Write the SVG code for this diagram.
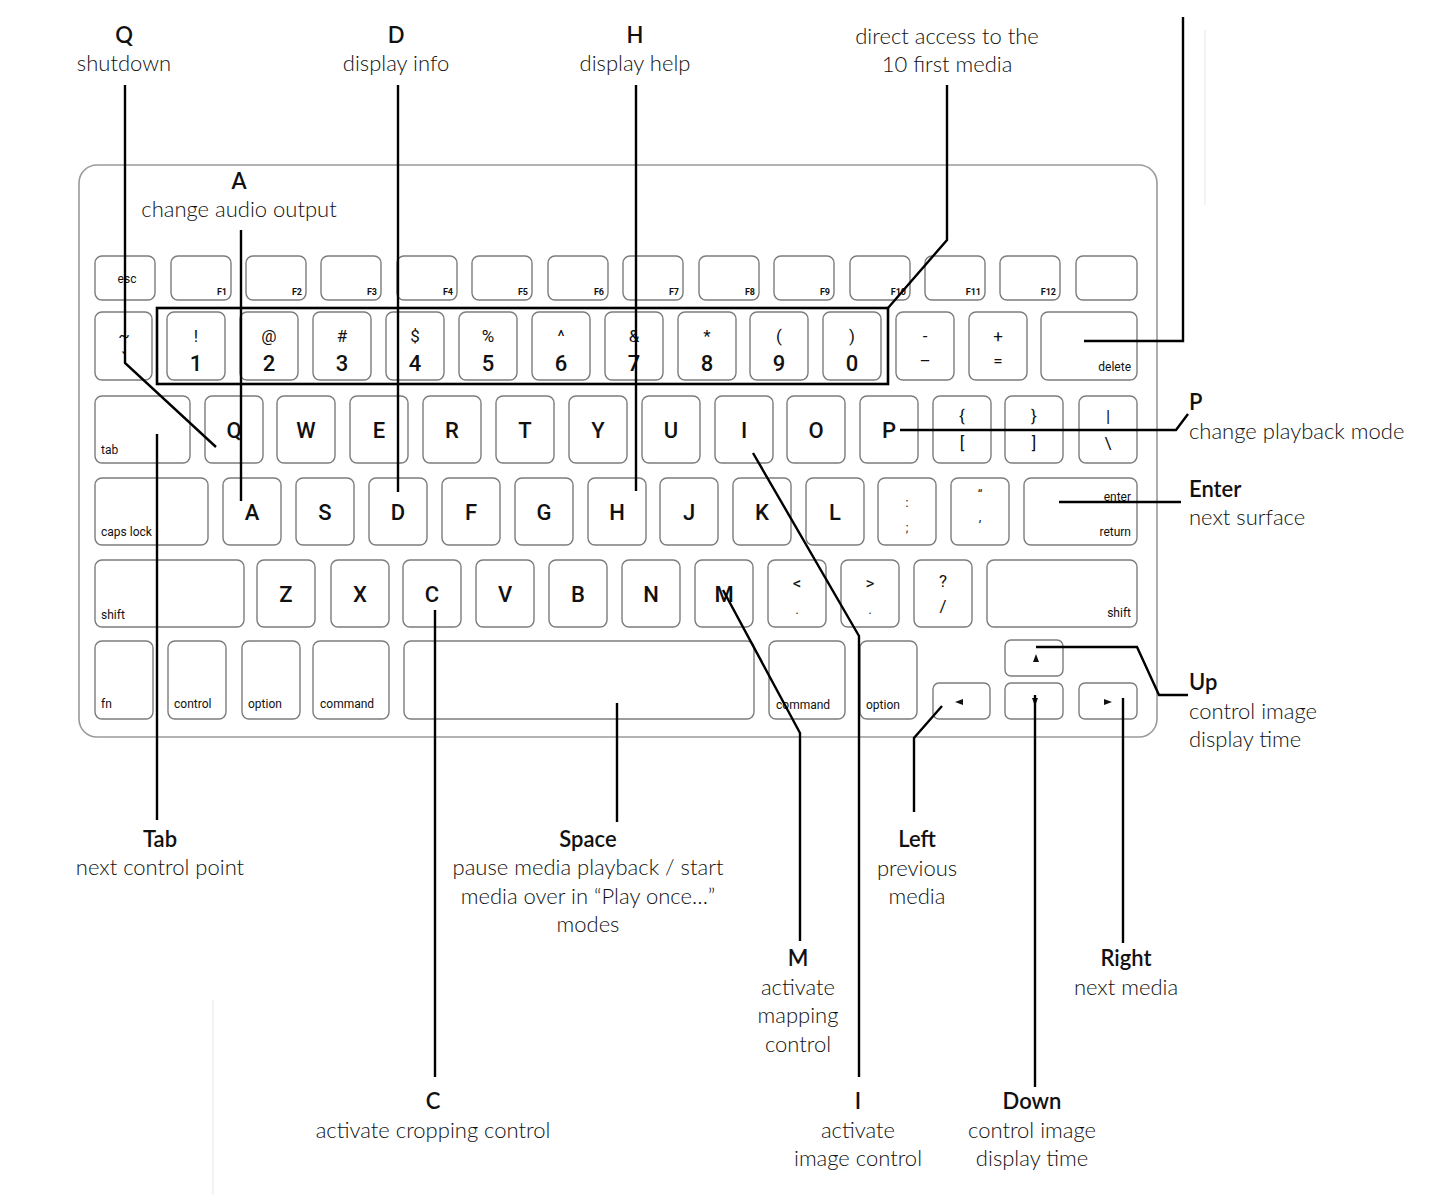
<svg xmlns="http://www.w3.org/2000/svg" width="1440" height="1195" viewBox="0 0 1440 1195">
<style>
.bg{fill:#fff}
.board{fill:#fff;stroke:#9a9a9a;stroke-width:1.6}
.k{fill:#fff;stroke:#7c7c7c;stroke-width:1.4}
.kt{font-family:Roboto,"Liberation Sans",sans-serif;fill:#111;text-anchor:middle}
.big{font-size:22px;font-weight:500}
.sym{font-size:17px}
.dig{font-size:22px;font-weight:500}
.fk{font-size:9px;font-weight:bold;text-anchor:end}
.mod{font-size:12px;text-anchor:start}
.modr{font-size:12px;text-anchor:end}
.ttl{font-family:Lato,"Open Sans",sans-serif;font-size:22px;font-weight:600;fill:#111;text-anchor:middle}
.dsc{font-family:Lato,"Open Sans",sans-serif;font-size:22px;font-weight:300;fill:#111;text-anchor:middle}
.ls{text-anchor:start}
.conn{fill:none;stroke:#000;stroke-width:2.4;stroke-linejoin:miter}
.faint{stroke:#eef0f0;stroke-width:1.5}
</style>
<rect class="bg" x="0" y="0" width="1440" height="1195"/>
<line class="faint" x1="213" y1="1000" x2="213" y2="1195"/>
<line class="faint" x1="1205" y1="30" x2="1205" y2="205"/>

<g id="keyboard">
<rect class="board" x="79" y="165" width="1078" height="572" rx="18"/>
</g>

<g id="function-row">
<rect class="k" x="95" y="256" width="60" height="44" rx="7"/><text class="kt" x="127" y="283" font-size="12">esc</text>
<rect class="k" x="171" y="256" width="60" height="44" rx="7"/><text class="kt fk" x="227" y="295">F1</text>
<rect class="k" x="246" y="256" width="60" height="44" rx="7"/><text class="kt fk" x="302" y="295">F2</text>
<rect class="k" x="321" y="256" width="60" height="44" rx="7"/><text class="kt fk" x="377" y="295">F3</text>
<rect class="k" x="397" y="256" width="60" height="44" rx="7"/><text class="kt fk" x="453" y="295">F4</text>
<rect class="k" x="472" y="256" width="60" height="44" rx="7"/><text class="kt fk" x="528" y="295">F5</text>
<rect class="k" x="548" y="256" width="60" height="44" rx="7"/><text class="kt fk" x="604" y="295">F6</text>
<rect class="k" x="623" y="256" width="60" height="44" rx="7"/><text class="kt fk" x="679" y="295">F7</text>
<rect class="k" x="699" y="256" width="60" height="44" rx="7"/><text class="kt fk" x="755" y="295">F8</text>
<rect class="k" x="774" y="256" width="60" height="44" rx="7"/><text class="kt fk" x="830" y="295">F9</text>
<rect class="k" x="850" y="256" width="60" height="44" rx="7"/><text class="kt fk" x="906" y="295">F10</text>
<rect class="k" x="925" y="256" width="60" height="44" rx="7"/><text class="kt fk" x="981" y="295">F11</text>
<rect class="k" x="1000" y="256" width="60" height="44" rx="7"/><text class="kt fk" x="1056" y="295">F12</text>
<rect class="k" x="1076" y="256" width="61" height="44" rx="7"/>
</g>

<g id="number-row">
<rect class="k" x="95" y="312" width="57" height="68" rx="7"/><text class="kt sym" x="124" y="342">~</text><text class="kt sym" x="124" y="364">`</text>
<rect class="k" x="167" y="312" width="58" height="68" rx="7"/><text class="kt sym" x="196" y="342">!</text><text class="kt dig" x="196" y="371">1</text>
<rect class="k" x="240" y="312" width="58" height="68" rx="7"/><text class="kt sym" x="269" y="342">@</text><text class="kt dig" x="269" y="371">2</text>
<rect class="k" x="313" y="312" width="58" height="68" rx="7"/><text class="kt sym" x="342" y="342">#</text><text class="kt dig" x="342" y="371">3</text>
<rect class="k" x="386" y="312" width="58" height="68" rx="7"/><text class="kt sym" x="415" y="342">$</text><text class="kt dig" x="415" y="371">4</text>
<rect class="k" x="459" y="312" width="58" height="68" rx="7"/><text class="kt sym" x="488" y="342">%</text><text class="kt dig" x="488" y="371">5</text>
<rect class="k" x="532" y="312" width="58" height="68" rx="7"/><text class="kt sym" x="561" y="342">^</text><text class="kt dig" x="561" y="371">6</text>
<rect class="k" x="605" y="312" width="58" height="68" rx="7"/><text class="kt sym" x="634" y="342">&amp;</text><text class="kt dig" x="634" y="371">7</text>
<rect class="k" x="678" y="312" width="58" height="68" rx="7"/><text class="kt sym" x="707" y="342">*</text><text class="kt dig" x="707" y="371">8</text>
<rect class="k" x="750" y="312" width="58" height="68" rx="7"/><text class="kt sym" x="779" y="342">(</text><text class="kt dig" x="779" y="371">9</text>
<rect class="k" x="823" y="312" width="58" height="68" rx="7"/><text class="kt sym" x="852" y="342">)</text><text class="kt dig" x="852" y="371">0</text>
<rect class="k" x="896" y="312" width="58" height="68" rx="7"/><text class="kt sym" x="925" y="342">-</text><text class="kt sym" x="925" y="367">–</text>
<rect class="k" x="969" y="312" width="58" height="68" rx="7"/><text class="kt sym" x="998" y="342">+</text><text class="kt sym" x="998" y="367">=</text>
<rect class="k" x="1041" y="312" width="96" height="68" rx="7"/><text class="kt modr" x="1131" y="371">delete</text>
</g>

<g id="qwerty-row">
<rect class="k" x="95" y="396" width="95" height="67" rx="7"/><text class="kt mod" x="101" y="454">tab</text>
<rect class="k" x="205" y="396" width="58" height="67" rx="7"/><text class="kt big" x="234" y="438">Q</text>
<rect class="k" x="277" y="396" width="58" height="67" rx="7"/><text class="kt big" x="306" y="438">W</text>
<rect class="k" x="350" y="396" width="58" height="67" rx="7"/><text class="kt big" x="379" y="438">E</text>
<rect class="k" x="423" y="396" width="58" height="67" rx="7"/><text class="kt big" x="452" y="438">R</text>
<rect class="k" x="496" y="396" width="58" height="67" rx="7"/><text class="kt big" x="525" y="438">T</text>
<rect class="k" x="569" y="396" width="58" height="67" rx="7"/><text class="kt big" x="598" y="438">Y</text>
<rect class="k" x="642" y="396" width="58" height="67" rx="7"/><text class="kt big" x="671" y="438">U</text>
<rect class="k" x="715" y="396" width="58" height="67" rx="7"/><text class="kt big" x="744" y="438">I</text>
<rect class="k" x="787" y="396" width="58" height="67" rx="7"/><text class="kt big" x="816" y="438">O</text>
<rect class="k" x="860" y="396" width="58" height="67" rx="7"/><text class="kt big" x="889" y="438">P</text>
<rect class="k" x="933" y="396" width="58" height="67" rx="7"/><text class="kt sym" x="962" y="422">{</text><text class="kt sym" x="962" y="449">[</text>
<rect class="k" x="1005" y="396" width="58" height="67" rx="7"/><text class="kt sym" x="1034" y="422">}</text><text class="kt sym" x="1034" y="449">]</text>
<rect class="k" x="1079" y="396" width="58" height="67" rx="7"/><text class="kt sym" x="1108" y="422">|</text><text class="kt sym" x="1108" y="449">\</text>
</g>

<g id="asdf-row">
<rect class="k" x="95" y="478" width="113" height="67" rx="7"/><text class="kt mod" x="101" y="536">caps lock</text>
<rect class="k" x="223" y="478" width="58" height="67" rx="7"/><text class="kt big" x="252" y="520">A</text>
<rect class="k" x="296" y="478" width="58" height="67" rx="7"/><text class="kt big" x="325" y="520">S</text>
<rect class="k" x="369" y="478" width="58" height="67" rx="7"/><text class="kt big" x="398" y="520">D</text>
<rect class="k" x="442" y="478" width="58" height="67" rx="7"/><text class="kt big" x="471" y="520">F</text>
<rect class="k" x="515" y="478" width="58" height="67" rx="7"/><text class="kt big" x="544" y="520">G</text>
<rect class="k" x="588" y="478" width="58" height="67" rx="7"/><text class="kt big" x="617" y="520">H</text>
<rect class="k" x="660" y="478" width="58" height="67" rx="7"/><text class="kt big" x="689" y="520">J</text>
<rect class="k" x="733" y="478" width="58" height="67" rx="7"/><text class="kt big" x="762" y="520">K</text>
<rect class="k" x="806" y="478" width="58" height="67" rx="7"/><text class="kt big" x="835" y="520">L</text>
<rect class="k" x="878" y="478" width="58" height="67" rx="7"/><text class="kt" x="907" y="507" font-size="12">:</text><text class="kt" x="907" y="532" font-size="12">;</text>
<rect class="k" x="951" y="478" width="58" height="67" rx="7"/><text class="kt" x="980" y="499" font-size="13">“</text><text class="kt" x="980" y="521" font-size="13">,</text>
<rect class="k" x="1024" y="478" width="113" height="67" rx="7"/><text class="kt modr" x="1131" y="501" font-size="9">enter</text><text class="kt modr" x="1131" y="536">return</text>
</g>

<g id="zxcv-row">
<rect class="k" x="95" y="560" width="149" height="67" rx="7"/><text class="kt mod" x="101" y="619">shift</text>
<rect class="k" x="257" y="560" width="58" height="67" rx="7"/><text class="kt big" x="286" y="602">Z</text>
<rect class="k" x="331" y="560" width="58" height="67" rx="7"/><text class="kt big" x="360" y="602">X</text>
<rect class="k" x="403" y="560" width="58" height="67" rx="7"/><text class="kt big" x="432" y="602">C</text>
<rect class="k" x="476" y="560" width="58" height="67" rx="7"/><text class="kt big" x="505" y="602">V</text>
<rect class="k" x="549" y="560" width="58" height="67" rx="7"/><text class="kt big" x="578" y="602">B</text>
<rect class="k" x="622" y="560" width="58" height="67" rx="7"/><text class="kt big" x="651" y="602">N</text>
<rect class="k" x="695" y="560" width="58" height="67" rx="7"/><text class="kt big" x="724" y="602">M</text>
<rect class="k" x="768" y="560" width="58" height="67" rx="7"/><text class="kt sym" x="797" y="589">&lt;</text><text class="kt" x="797" y="614" font-size="12">.</text>
<rect class="k" x="841" y="560" width="58" height="67" rx="7"/><text class="kt sym" x="870" y="589">&gt;</text><text class="kt" x="870" y="614" font-size="12">.</text>
<rect class="k" x="914" y="560" width="58" height="67" rx="7"/><text class="kt sym" x="943" y="587">?</text><text class="kt sym" x="943" y="612">/</text>
<rect class="k" x="987" y="560" width="150" height="67" rx="7"/><text class="kt modr" x="1131" y="617">shift</text>
</g>

<g id="bottom-row">
<rect class="k" x="95" y="641" width="58" height="78" rx="7"/><text class="kt mod" x="101" y="708">fn</text>
<rect class="k" x="168" y="641" width="58" height="78" rx="7"/><text class="kt mod" x="174" y="708">control</text>
<rect class="k" x="242" y="641" width="58" height="78" rx="7"/><text class="kt mod" x="248" y="708">option</text>
<rect class="k" x="313" y="641" width="76" height="78" rx="7"/><text class="kt mod" x="320" y="708">command</text>
<rect class="k" x="404" y="641" width="350" height="78" rx="7"/>
<rect class="k" x="769" y="641" width="76" height="78" rx="7"/><text class="kt mod" x="776" y="709">command</text>
<rect class="k" x="860" y="641" width="57" height="78" rx="7"/><text class="kt mod" x="866" y="709">option</text>
</g>

<g id="arrow-keys">
<rect class="k" x="1005" y="640" width="58" height="36" rx="6"/><polygon points="1036,654 1033,662 1039,662" fill="#111"/>
<rect class="k" x="933" y="683" width="57" height="36" rx="6"/><polygon points="955,702 963,699 963,705" fill="#111"/>
<rect class="k" x="1005" y="683" width="58" height="36" rx="6"/><polygon points="1035,706 1032,698 1038,698" fill="#111"/>
<rect class="k" x="1079" y="683" width="58" height="36" rx="6"/><polygon points="1112,702 1104,699 1104,705" fill="#111"/>
</g>

<g id="number-highlight">
<rect x="157" y="308" width="731" height="76" fill="none" stroke="#000" stroke-width="2.6"/>
</g>

<g id="connectors">
<path class="conn" d="M125,85 V363 L216,447"/>
<path class="conn" d="M398,85 V492"/>
<path class="conn" d="M636,85 V491"/>
<path class="conn" d="M241,230 V501"/>
<path class="conn" d="M947,85 V240 L888,308"/>
<path class="conn" d="M1183,17 V341 H1084"/>
<path class="conn" d="M900,430 H1176 L1188,414"/>
<path class="conn" d="M1059,502 H1181"/>
<path class="conn" d="M753,453 L859,636 V1077"/>
<path class="conn" d="M723,590 L800,733 V941"/>
<path class="conn" d="M617,703 V822"/>
<path class="conn" d="M435,610 V1077"/>
<path class="conn" d="M157,434 V820"/>
<path class="conn" d="M942,706 L914,738 V812"/>
<path class="conn" d="M1035,695 V1087" stroke-width="3"/>
<path class="conn" d="M1123,698 V943"/>
<path class="conn" d="M1036,647 H1137 L1159,695 H1188"/>
</g>

<g id="label-q"><text class="ttl" x="124" y="43">Q</text><text class="dsc" x="124" y="71">shutdown</text></g>
<g id="label-d"><text class="ttl" x="396" y="43">D</text><text class="dsc" x="396" y="71">display info</text></g>
<g id="label-h"><text class="ttl" x="635" y="43">H</text><text class="dsc" x="635" y="71">display help</text></g>
<g id="label-digits"><text class="dsc" x="947" y="44">direct access to the</text><text class="dsc" x="947" y="72">10 first media</text></g>
<g id="label-a"><text class="ttl" x="239" y="189">A</text><text class="dsc" x="239" y="217">change audio output</text></g>
<g id="label-p"><text class="ttl ls" x="1189" y="410">P</text><text class="dsc ls" x="1189" y="439">change playback mode</text></g>
<g id="label-enter"><text class="ttl ls" x="1189" y="497">Enter</text><text class="dsc ls" x="1189" y="525">next surface</text></g>
<g id="label-up"><text class="ttl ls" x="1189" y="690">Up</text><text class="dsc ls" x="1189" y="719">control image</text><text class="dsc ls" x="1189" y="747">display time</text></g>
<g id="label-tab"><text class="ttl" x="160" y="847">Tab</text><text class="dsc" x="160" y="875">next control point</text></g>
<g id="label-space"><text class="ttl" x="588" y="847">Space</text><text class="dsc" x="588" y="875">pause media playback / start</text><text class="dsc" x="588" y="904">media over in “Play once…”</text><text class="dsc" x="588" y="932">modes</text></g>
<g id="label-left"><text class="ttl" x="917" y="847">Left</text><text class="dsc" x="917" y="876">previous</text><text class="dsc" x="917" y="904">media</text></g>
<g id="label-m"><text class="ttl" x="798" y="966">M</text><text class="dsc" x="798" y="995">activate</text><text class="dsc" x="798" y="1023">mapping</text><text class="dsc" x="798" y="1052">control</text></g>
<g id="label-right"><text class="ttl" x="1126" y="966">Right</text><text class="dsc" x="1126" y="995">next media</text></g>
<g id="label-c"><text class="ttl" x="433" y="1109">C</text><text class="dsc" x="433" y="1138">activate cropping control</text></g>
<g id="label-i"><text class="ttl" x="858" y="1109">I</text><text class="dsc" x="858" y="1138">activate</text><text class="dsc" x="858" y="1166">image control</text></g>
<g id="label-down"><text class="ttl" x="1032" y="1109">Down</text><text class="dsc" x="1032" y="1138">control image</text><text class="dsc" x="1032" y="1166">display time</text></g>
</svg>
